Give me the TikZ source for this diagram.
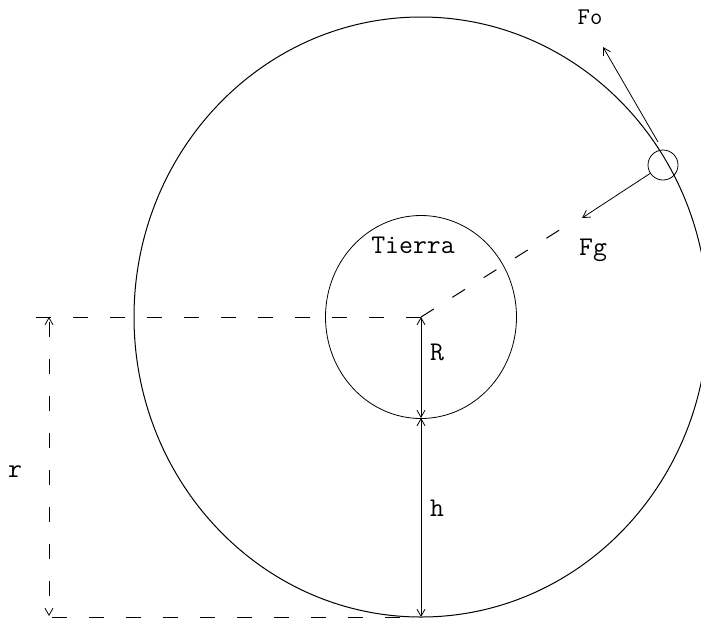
\documentclass[tikz,border=0pt]{standalone}
\usetikzlibrary{arrows.meta,calc}
\begin{document}
\begin{tikzpicture}[x=1pt,y=-1pt,
  ln/.style={line width=0.8pt},
  dsh/.style={line width=1pt,dash pattern=on 15pt off 22pt},
  barb/.style={-{Straight Barb[length=7pt,width=8pt]}},
  dimarr/.style={line width=0.8pt,{Straight Barb[length=7pt,width=8pt]}-{Straight Barb[length=7pt,width=8pt]}},
  lbl/.style={font=\fontsize{27}{30}\selectfont\ttfamily,inner sep=0pt},
  sat/.style={draw,circle,line width=0.8pt,minimum size=30pt,inner sep=0pt}]
\useasboundingbox (0,0) rectangle (701,622);
\coordinate (O) at (421,317);
\coordinate (B) at (421,418);
\coordinate (C) at (421,617);
\coordinate (HL) at (36,317);
\coordinate (RT) at (49,317);
\coordinate (RB) at (49,616);
\coordinate (BL) at (52,617);
\coordinate (FgT) at (582,218);
\coordinate (FoS) at (658,142);
\coordinate (FoT) at (603,47);
% orbit and earth
\draw[line width=1pt] (O) ellipse [x radius=287, y radius=300];
\draw[ln] (O) ellipse [x radius=95.5, y radius=101.5];
% satellite
\node[sat] (S) at (663,165) {};
% dashed guides
\draw[dsh] (HL) -- (O);
\draw[dsh] (BL) -- (C);
\draw[dsh] (O) -- ($(O)!0.6!(S)$) coordinate (DE);
\draw[dimarr,dash pattern=on 15pt off 22pt,dash phase=-4pt] (RT) -- (RB);
% radius and height
\draw[dimarr] (O) -- (B);
\draw[dimarr] (B) -- (C);
% forces
\draw[ln,barb] (S) -- (FgT);
\draw[ln,barb] (FoS) -- (FoT);
% labels
\node[lbl] (tierra) at (413,245) {Tierra};
\node[lbl] (lR) at (437,352) {R};
\node[lbl] (lh) at (437,508) {h};
\node[lbl] (lr) at (15,472) {r};
\node[lbl] (lFg) at (593,250) {Fg};
\node[lbl,font=\fontsize{24}{28}\selectfont\ttfamily] (lFo) at (590,17) {Fo};
\end{tikzpicture}
\end{document}
